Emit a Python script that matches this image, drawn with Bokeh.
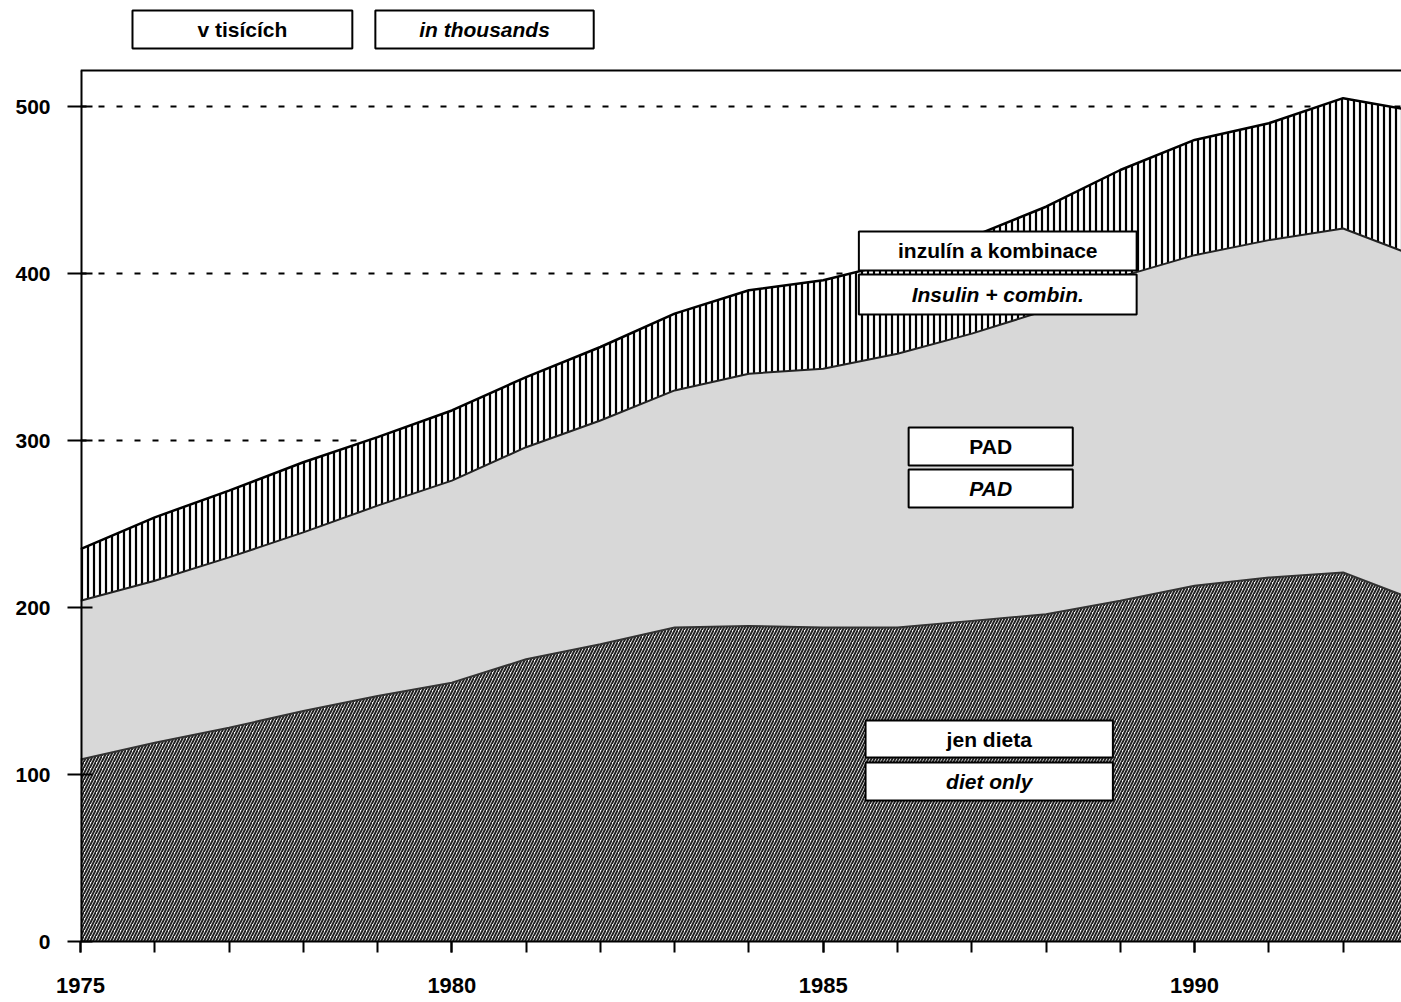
from bokeh.plotting import figure
from bokeh.models import ColumnDataSource, FixedTicker, Span, Range1d
from bokeh.core.properties import value
from bokeh.embed import file_html
from bokeh.resources import INLINE

# ---- data (thousands of patients) ----
years = list(range(1975, 1994))
diet_only = [109, 119, 128, 138, 147, 155, 169, 178, 188, 189, 188, 188, 192, 196, 204, 213, 218, 221, 204]
pad       = [95, 97, 102, 107, 114, 121, 127, 134, 142, 151, 155, 164, 172, 182, 194, 198, 202, 206, 206]
insulin   = [31, 38, 40, 42, 41, 42, 42, 44, 46, 50, 53, 55, 58, 62, 64, 69, 70, 78, 87]

y_ticks = [0, 100, 200, 300, 400, 500]
x_major_ticks = [1975, 1980, 1985, 1990]
x_minor_ticks = list(range(1975, 1994))

unit_labels = ["v tisících", "in thousands"]
labels_cz = ["inzulín a kombinace", "PAD", "jen dieta"]
labels_en = ["Insulin + combin.", "PAD", "diet only"]

FONT = "Liberation Sans"

c1 = diet_only
c2 = [a + b for a, b in zip(c1, pad)]
c3 = [a + b for a, b in zip(c2, insulin)]
src = ColumnDataSource(dict(year=years, c1=c1, c2=c2, c3=c3))

p = figure(width=1401, height=1002, title=None,
           x_range=Range1d(1975, 1992.786), y_range=Range1d(0, 563.5),
           output_backend="svg", toolbar_location=None,
           min_border_left=80, min_border_right=0, min_border_top=0, min_border_bottom=61,
           background_fill_color="white", border_fill_color="white")
p.outline_line_color = None

# axes
p.yaxis.ticker = FixedTicker(ticks=y_ticks, minor_ticks=[])
p.xaxis.ticker = FixedTicker(ticks=x_major_ticks, minor_ticks=x_minor_ticks)
p.xgrid.visible = False
p.ygrid.grid_line_color = "black"
p.ygrid.grid_line_dash = "6 12"
p.ygrid.grid_line_width = 2

for ax in (p.xaxis[0], p.yaxis[0]):
    ax.major_label_text_font = FONT
    ax.major_label_text_font_style = "bold"
    ax.major_label_text_color = "black"
    ax.major_tick_line_color = "black"
    ax.major_tick_line_width = 2
    ax.minor_tick_line_color = "black"
    ax.minor_tick_line_width = 2

p.yaxis.axis_line_color = None
p.yaxis.major_tick_in = 12
p.yaxis.major_tick_out = 13
p.yaxis.major_label_standoff = 17
p.yaxis.major_label_text_font_size = "21px"

p.xaxis.axis_line_color = "black"
p.xaxis.axis_line_width = 2
p.xaxis.major_tick_in = 0
p.xaxis.major_tick_out = 11
p.xaxis.minor_tick_in = 0
p.xaxis.minor_tick_out = 11
p.xaxis.major_label_standoff = 25
p.xaxis.major_label_text_font_size = "22px"

# stacked areas
p.varea(x="year", y1=0, y2="c1", source=src, fill_color="white",
        hatch_pattern="/", hatch_color="#222222", hatch_scale=6, hatch_weight=2)
p.varea(x="year", y1="c1", y2="c2", source=src, fill_color="#d8d8d8")
p.varea(x="year", y1="c2", y2="c3", source=src, fill_color="white",
        hatch_pattern="|", hatch_color="black", hatch_scale=6, hatch_weight=2.2)
p.line(x="year", y="c1", source=src, line_color="#333333", line_width=2)
p.line(x="year", y="c2", source=src, line_color="#222222", line_width=2)
p.line(x="year", y="c3", source=src, line_color="black", line_width=2.5)

# frame: top border and left axis line
TOP = 521.6
p.add_layout(Span(location=TOP, dimension="width", line_color="black", line_width=2))
p.segment(x0=[1975], y0=[0], x1=[1975], y1=[TOP], line_color="black", line_width=4)

# label boxes (data units)
boxes = dict(
    left=[1975.70, 1978.97, 1985.48, 1985.48, 1986.15, 1986.15, 1985.57, 1985.57],
    right=[1978.66, 1981.91, 1989.22, 1989.22, 1988.36, 1988.36, 1988.90, 1988.90],
    top=[557.5, 557.5, 425.2, 399.4, 307.8, 282.6, 132.3, 107.2],
    bottom=[534.7, 534.7, 401.8, 375.5, 285.0, 259.9, 110.2, 84.4],
)
texts = [unit_labels[0], unit_labels[1], labels_cz[0], labels_en[0],
         labels_cz[1], labels_en[1], labels_cz[2], labels_en[2]]
styles = ["bold", "bold italic", "bold", "bold italic", "bold", "bold italic", "bold", "bold italic"]
bsrc = ColumnDataSource(dict(
    left=boxes["left"], right=boxes["right"], top=boxes["top"], bottom=boxes["bottom"],
    cx=[(a + b) / 2 for a, b in zip(boxes["left"], boxes["right"])],
    cy=[(a + b) / 2 for a, b in zip(boxes["top"], boxes["bottom"])],
    text=texts, style=styles))
p.quad(left="left", right="right", top="top", bottom="bottom", source=bsrc,
       fill_color="white", line_color="black", line_width=2)
p.text(x="cx", y="cy", text="text", source=bsrc, text_align="center", text_baseline="middle",
       text_font=value(FONT), text_font_size="21px", text_font_style="style", text_color="black")

open("out.html", "w").write(file_html(p, INLINE))
